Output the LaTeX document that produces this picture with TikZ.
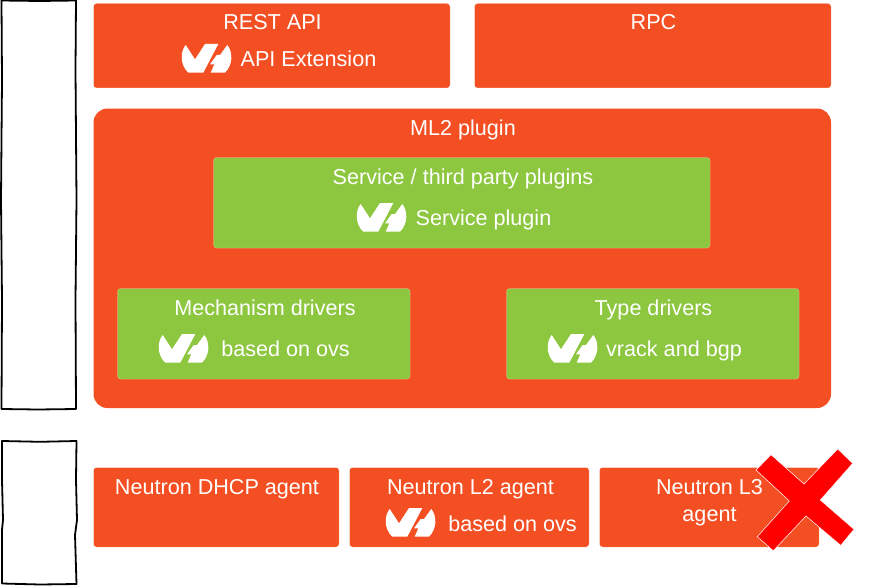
\documentclass[tikz,border=0pt]{standalone}
\usepackage{fontspec}
\setmainfont{Liberation Sans}
\definecolor{ovhred}{HTML}{F44F23}
\definecolor{ovhgreen}{HTML}{8DC63F}
\tikzset{x=1pt,y=-1pt,
 box/.style={fill=#1,draw=white,draw opacity=0.35,line width=0.5pt,rounded corners=3pt},
 lbl/.style={text=white,font=\fontsize{21.6}{26}\selectfont,inner sep=0pt,anchor=base,align=center},
 sketch/.style={draw=black,line width=1.8pt,fill=white,line join=round},
 logo/.pic={
  \fill[white] (-21.3,-13) .. controls (-27,-6) and (-27,7) .. (-18.7,14.7) -- (-3.7,14.7) -- (11.3,-14) -- (-2,-14) -- (-12,1.3) -- cycle;
  \fill[white] (20.3,-13) .. controls (26,-6) and (26,7) .. (18,14.7) -- (3.7,14.7) -- (7.3,6.3) -- (3,6.3) -- (9.7,-3) -- (13,-3) -- cycle;
 }}
\begin{document}
\begin{tikzpicture}
\useasboundingbox (0,0) rectangle (889,586);
\draw[sketch] (1.5,0.5) -- (40,1) -- (76,0.5) -- (75.5,70) -- (76.5,200) -- (75.5,300) -- (76,409) -- (38,409.5) -- (1.5,409) -- (2,300) -- (1,200) -- (2,80) -- cycle;
\draw[sketch] (2,441) -- (40,441.8) -- (76.5,441) -- (76,480) -- (77,520) -- (75,535) -- (76.5,584) -- (40,584.5) -- (2,583.5) -- (2,530) -- (3,520) -- (2,480) -- cycle;
\draw[box=ovhred] (93.5,3.5) rectangle (450,88);
\draw[box=ovhred] (474.5,3.5) rectangle (831,88);
\draw[fill=ovhred,draw=none,rounded corners=14pt] (93.5,108.5) rectangle (831,408);
\draw[box=ovhgreen] (213.5,157.5) rectangle (710,248);
\draw[box=ovhgreen] (117.5,288.5) rectangle (410,379);
\draw[box=ovhgreen] (506.5,288.5) rectangle (799,379);
\draw[box=ovhred] (93.5,467.5) rectangle (339,547);
\draw[box=ovhred] (349.5,467.5) rectangle (589,547);
\draw[box=ovhred] (599.5,467.5) rectangle (819,547);
\node[lbl] (a) at (272.5,30) {REST API};
\node[lbl] (b) at (653.5,30) {RPC};
\node[lbl] (c) at (308.5,66.5) {API Extension};
\node[lbl] (d) at (463,135) {ML2 plugin};
\node[lbl] (e) at (463,184) {Service / third party plugins};
\node[lbl] (f) at (483.5,225) {Service plugin};
\node[lbl] (g) at (265,315) {Mechanism drivers};
\node[lbl] (h) at (285.5,356) {based on ovs};
\node[lbl] (i) at (653.5,315) {Type drivers};
\node[lbl] (j) at (674,356) {vrack and bgp};
\node[lbl] (k) at (217,494) {Neutron DHCP agent};
\node[lbl] (l) at (470.5,494) {Neutron L2 agent};
\node[lbl] (m) at (512.5,531) {based on ovs};
\node[lbl] (n) at (709.5,494) {Neutron L3};
\node[lbl] (o) at (709.5,521) {agent};
\pic at (207,58) {logo};
\pic at (382,217) {logo};
\pic at (184,348) {logo};
\pic at (573,348) {logo};
\pic at (411,522) {logo};
\fill[red,draw=white,line width=0.5pt] (771,454.7) -- (756,470) -- (789.3,501) -- (757.3,536.7) -- (773.3,550.7) -- (806,516) -- (840.7,545.3) -- (854,529.3) -- (820.3,500) -- (852.7,463.3) -- (837.7,449) -- (804,484) -- cycle;
\end{tikzpicture}
\end{document}
